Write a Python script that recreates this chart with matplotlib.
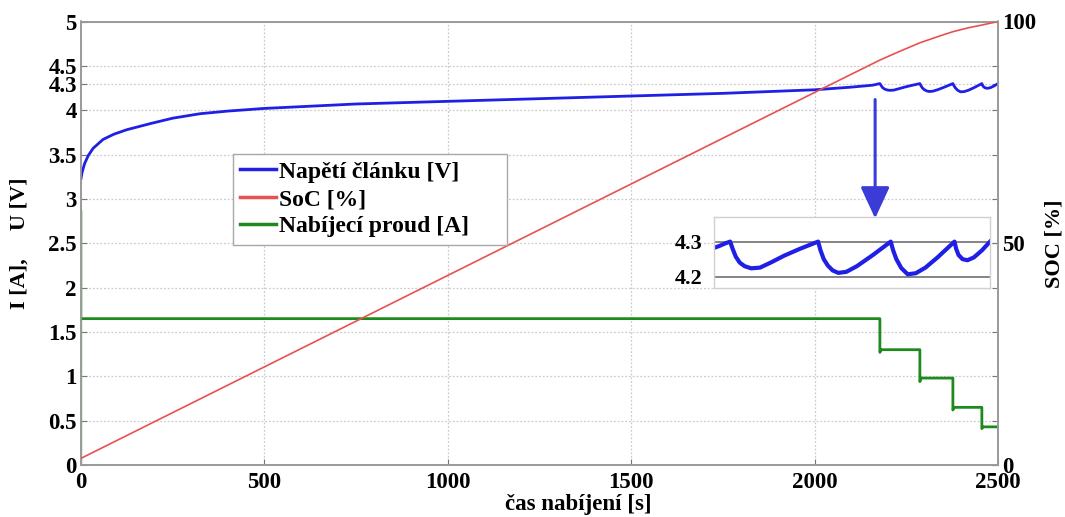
import matplotlib
matplotlib.use("Agg")
import matplotlib.pyplot as plt
from matplotlib.lines import Line2D

# ---------------- data ----------------
# cell voltage [V]
t_u = [0, 3, 10, 20, 33, 60, 90, 125, 190, 250, 324, 400, 500, 750, 1000, 1250, 1500,
       1750, 2000, 2100, 2158, 2165, 2172,
       2178, 2181, 2185, 2190, 2196, 2204, 2215, 2228, 2245, 2265,
       2287, 2290, 2294, 2299, 2305, 2312, 2322, 2335, 2355,
       2377, 2380, 2384, 2390, 2398, 2408, 2420, 2435,
       2456, 2458, 2461, 2466, 2472, 2480, 2490, 2500]
u = [3.23, 3.30, 3.40, 3.49, 3.57, 3.67, 3.73, 3.78, 3.85, 3.91, 3.96, 3.99, 4.02, 4.07,
     4.10, 4.13, 4.16, 4.19, 4.23, 4.26, 4.282, 4.288, 4.295,
     4.30, 4.28, 4.257, 4.24, 4.23, 4.224, 4.226, 4.24, 4.26, 4.28,
     4.30, 4.275, 4.25, 4.232, 4.218, 4.211, 4.214, 4.23, 4.262,
     4.30, 4.275, 4.25, 4.225, 4.207, 4.21, 4.226, 4.255,
     4.30, 4.28, 4.262, 4.25, 4.247, 4.255, 4.275, 4.30]

# state of charge [%]
t_soc = [0, 2000, 2178, 2230, 2287, 2340, 2377, 2420, 2456, 2500]
soc = [1.5, 84.0, 91.3, 93.2, 95.2, 96.7, 97.7, 98.6, 99.2, 100.0]

# charging current [A]
t_i_start = [0, 0, 0]
i_start = [0.0, 2.87, 1.65]
t_i = [0, 2178, 2178, 2181, 2287, 2287, 2290, 2377, 2377, 2380, 2456, 2456, 2459, 2500]
i = [1.65, 1.65, 1.27, 1.30, 1.30, 0.94, 0.98, 0.98, 0.62, 0.65, 0.65, 0.41, 0.43, 0.43]

left_ticks = [0, 0.5, 1, 1.5, 2, 2.5, 3, 3.5, 4, 4.3, 4.5, 5]
left_ticklabels = ["0", "0.5", "1", "1.5", "2", "2.5", "3", "3.5", "4", "4.3", "4.5", "5"]
x_ticks = [0, 500, 1000, 1500, 2000, 2500]
right_ticks = [0, 50, 100]
inset_ticks = [4.2, 4.3]

labels = ["Napětí článku [V]", "SoC [%]", "Nabíjecí proud [A]"]
xlabel = "čas nabíjení [s]"
ylabel_left = "I [A],     U [V]"
ylabel_right = "SOC [%]"

# ---------------- style ----------------
SERIF = ["Liberation Serif", "DejaVu Serif"]
C_U = "#1f1fe6"
C_SOC = "#e8514f"
C_I = "#1e8a1e"
C_I2 = "#6cc06c"
C_ARROW = "#3b3bd8"
GRID = "#cccccc"
SPINE = "#9a9a9a"
TFS = 16.5

fig = plt.figure(figsize=(10.65, 5.17), dpi=100)
ax = fig.add_axes([81 / 1065, 52 / 517, 917 / 1065, 443.5 / 517])
ax2 = ax.twinx()

ax.plot(t_i_start, i_start, color=C_I2, lw=1.0, zorder=2)
ax.plot(t_u, u, color=C_U, lw=2.0, zorder=3)
ax.plot(t_i, i, color=C_I, lw=2.0, zorder=3)
ax2.plot(t_soc, soc, color=C_SOC, lw=1.2, zorder=3)

ax.set_xlim(0, 2500)
ax.set_ylim(0, 5)
ax2.set_ylim(0, 100)

ax.set_xticks(x_ticks)
ax.set_xticklabels([str(v) for v in x_ticks])
ax.set_yticks(left_ticks)
ax.set_yticklabels(left_ticklabels)
ax2.set_yticks(right_ticks)
ax2.set_yticklabels([str(v) for v in right_ticks])

ax.grid(True, color=GRID, lw=0.9, ls=(0, (1.5, 1.5)))
ax.set_axisbelow(True)

for a in (ax, ax2):
    for s in a.spines.values():
        s.set_color(SPINE)
        s.set_linewidth(1.2)
    a.tick_params(direction="in", length=4, color="#777777", pad=3)
    for lab in a.get_xticklabels() + a.get_yticklabels():
        lab.set_fontfamily(SERIF)
        lab.set_fontweight("bold")
        lab.set_fontsize(TFS)
ax.tick_params(axis="x", pad=5)
ax.tick_params(axis="y", right=True)

ax.set_xlabel(xlabel, family=SERIF, weight="bold", fontsize=16.5)
ax.xaxis.set_label_coords(0.542, -0.065)
ax.set_ylabel(ylabel_left, family=SERIF, weight="bold", fontsize=16)
ax.yaxis.set_label_coords(-0.056, 0.5)
ax2.set_ylabel(ylabel_right, family=SERIF, weight="bold", fontsize=16, labelpad=6)

# arrow pointing to inset
ax.annotate("", xy=(2165, 2.78), xytext=(2165, 4.12),
            arrowprops=dict(arrowstyle="-|>,head_length=1.3,head_width=0.6",
                            color=C_ARROW, lw=2.2, mutation_scale=15,
                            shrinkA=0, shrinkB=0), zorder=5)

# legend
handles = [Line2D([], [], color=C_U, lw=2.5),
           Line2D([], [], color=C_SOC, lw=2.5),
           Line2D([], [], color=C_I, lw=2.5)]
leg = ax2.legend(handles, labels, loc="upper left", mode="expand",
                 bbox_to_anchor=(233 / 1065, (517 - 241) / 517, 274 / 1065, 87 / 517),
                 bbox_transform=fig.transFigure,
                 prop=dict(family=SERIF, weight="bold", size=17),
                 frameon=True, fancybox=False, framealpha=1, edgecolor="#a8a8a8",
                 borderpad=0.3, handlelength=1.5, handletextpad=0.15,
                 labelspacing=0.25, borderaxespad=0)
leg.get_frame().set_linewidth(1.0)

# inset
axi = fig.add_axes([714 / 1065, (517 - 288) / 517, 276 / 1065, 71 / 517])
axi.plot(t_u, u, color=C_U, lw=3.0)
axi.set_xlim(2158, 2500)
axi.set_ylim(4.168, 4.37)
axi.set_xticks([])
axi.set_yticks(inset_ticks)
axi.set_yticklabels(["4.2", "4.3"])
for yv in inset_ticks:
    axi.axhline(yv, color="#707070", lw=1.2, zorder=0)
axi.tick_params(length=0, pad=8)
for lab in axi.get_yticklabels():
    lab.set_fontfamily(SERIF)
    lab.set_fontweight("bold")
    lab.set_fontsize(16)
for s in axi.spines.values():
    s.set_color("#d0d0d0")
    s.set_linewidth(1.0)

fig.savefig("out.png", dpi=100)
